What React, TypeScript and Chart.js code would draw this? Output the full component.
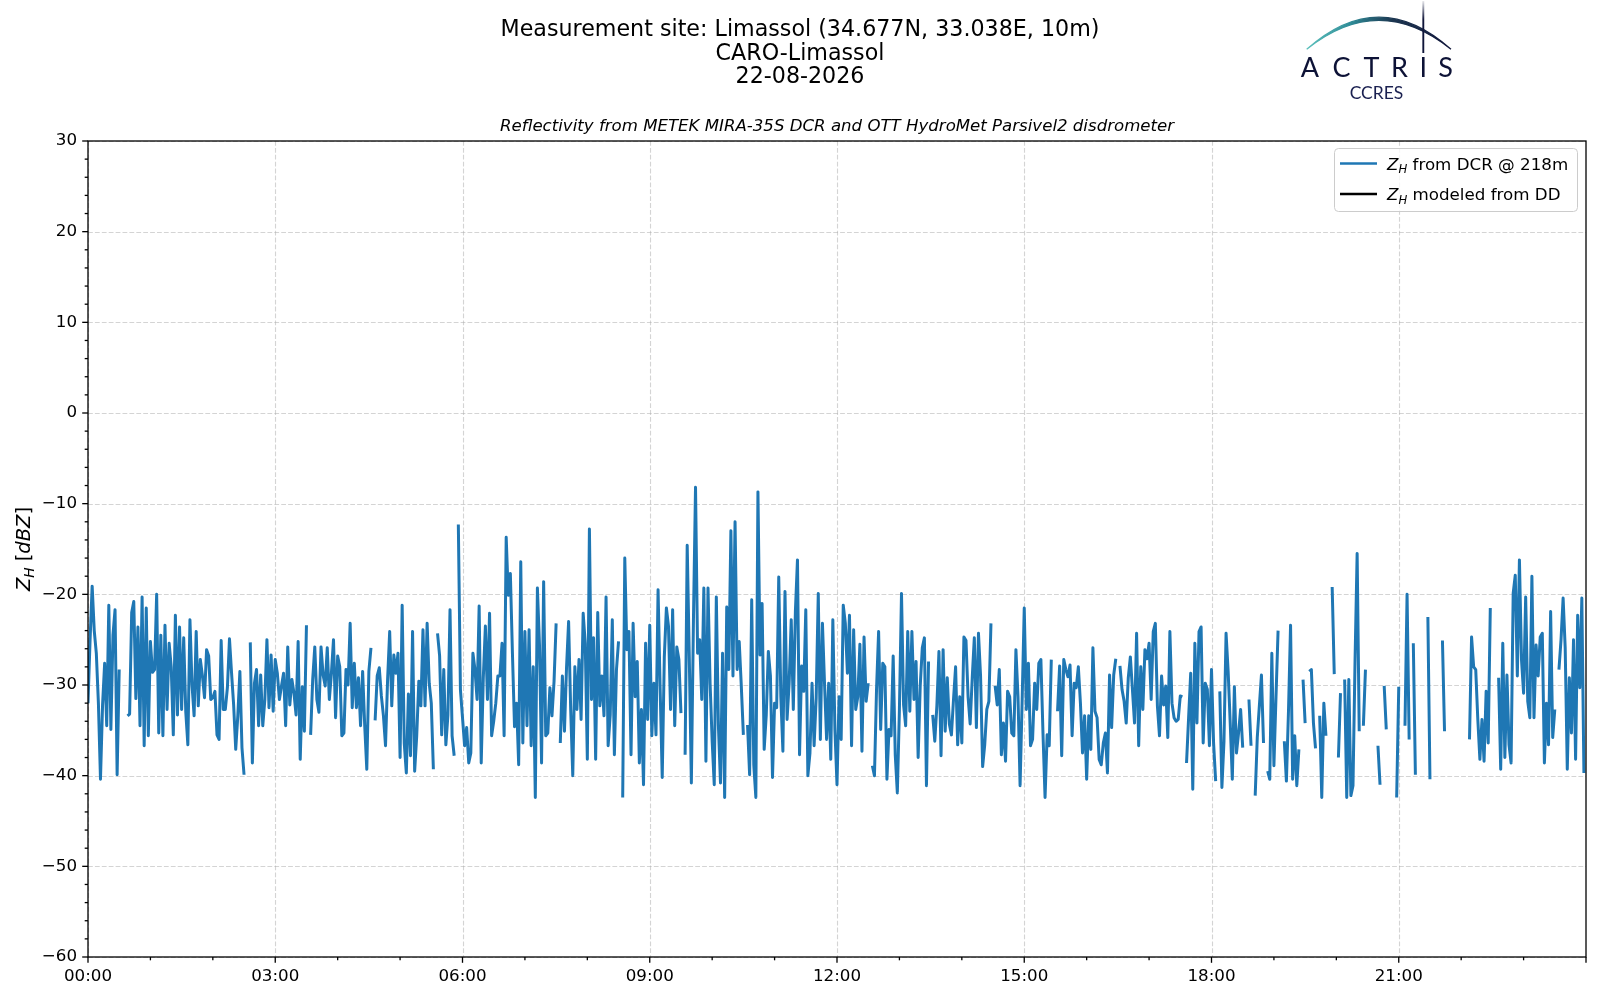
import React, { useEffect, useRef } from 'react';
import { Chart, registerables } from 'chart.js';

Chart.register(...registerables);

// 2-minute reflectivity samples (dBZ); null = no data
const STEP_MIN = 2;

const zhDcr00to03: (number | null)[] = [
  // 00h
  -32, -25, -19.1, -24, -26.5, -32, -40.4, -32.2, -27.6, -34.5, -21.2, -34.9, -24.5, -21.7, -39.9, -28.3, null, null, null, -33.4, -33.2, -22, -20.8, -31.5, -23.6, -34.5, -20.3, -36.7, -21.5, -35.6,
  // 01h
  -25.2, -28.6, -28.3, -20, -35.3, -24.5, -35.6, -23.4, -32.7, -25.4, -28, -35.5, -22.3, -33.3, -23.6, -32.7, -24.8, -33, -36.6, -22.8, -30, -33.4, -24.1, -32.3, -27.2, -29, -31.4, -26.1, -26.8, -31.6,
  // 02h
  -31.4, -30.7, -35.5, -36, -25.1, -32.7, -32.7, -30.3, -24.9, -28.7, -32.2, -37.1, -33.4, -28.5, -36.9, -39.9, null, null, -25.3, -38.6, -29.8, -28.3, -34.5, -28.9, -34.5, -31.6, -25, -32.5, -26.7, -32.9,
];

const zhDcr03to06: (number | null)[] = [
  // 03h
  -27.2, -28.7, -31.6, -30.1, -28.7, -34.5, -25.8, -32.2, -29.4, -30.9, -33.3, -25.2, -38.2, -30.2, -35.1, -23.4, null, -35.5, -29.4, -25.8, -31.6, -33, -25.8, -28.9, -30.1, -25.9, -31.6, -28.7, -25, -33.6,
  // 04h
  -26.8, -28, -35.6, -35.3, -28.3, -30, -23.2, -32.5, -27.6, -32.5, -29.2, -34.5, -28.5, -34.5, -39.3, -28.5, -25.9, null, -33.9, -29, -28.1, -31.2, -33.4, -36.7, -29.4, -24.1, -32.3, -26.7, -28.7, -26.5,
  // 05h
  -38, -21.2, -36.4, -39.7, -31, -37.8, -24.1, -39.5, -35.6, -29.6, -32.3, -23.9, -32.3, -23.2, -29.8, -32, -39.3, null, -24.3, -26.8, -35.5, -28.3, -36.6, -33.3, -21.7, -35.6, -37.8, null, -12.3, -30.5,
];

const zhDcr06to09: (number | null)[] = [
  // 06h
  -33.6, -36.7, -34.7, -38.6, -37.5, -26.5, -28.3, -31.6, -21.3, -38.6, -29.2, -23.5, -31.6, -22.1, -35.6, -34, -32, -29, -29, -25.4, -35.6, -13.7, -20.1, -17.7, -26.5, -34.6, -32, -38.8, -16.4, -36.4,
  // 07h
  -24.1, -34.5, -23.9, -36.7, -28, -42.4, -19.3, -25.6, -38.6, -18.6, -35.6, -35.3, -30.3, -33.4, -29.6, -23.2, null, -36.4, -29, -35.1, -28.1, -23, -32.7, -40, -28, -32.7, -27.2, -33.8, -22.1, -25.4,
  // 08h
  -38.2, -12.8, -31.6, -24.8, -38.2, -22, -32.3, -29, -33.4, -20.3, -36.7, -33.3, -22.8, -37.7, -28.3, -25.2, null, -42.4, -16, -26.1, -24.1, -37.7, -23.2, -31.3, -27.4, -38.6, -32.7, -41, -25.4, -33.8,
];

const zhDcr09to12: (number | null)[] = [
  // 09h
  -23.4, -35.6, -29.8, -35.5, -19.5, -30.5, -40.2, -26.9, -21.5, -23.5, -32.7, -21.7, -34.5, -25.8, -27.2, -33.1, null, -37.7, -14.6, -26.9, -40.8, -22.8, -8.2, -26.5, -25, -31.6, -19.3, -38.4, -19.3, -29.8,
  // 10h
  -36.2, -41, -20.3, -34.5, -40.8, -26.5, -42.4, -21.4, -28.3, -13, -29, -12, -28.3, -25.2, -30.1, -35.5, null, -34.4, -39.9, -20.6, -38.8, -42.4, -8.7, -26.7, -21, -37.1, -33.3, -26.3, -29, -40.2,
  // 11h
  -32, -32.5, -18.1, -31.3, -37.3, -19.7, -33.8, -29.8, -22.8, -32.7, -21.9, -16.2, -37.7, -27.9, -30.7, -21.7, -40, -37.5, -29.8, -36.7, -31.4, -19.9, -36, -23.2, -29.8, -36, -29.8, -38.2, -22.8, -34.9,
];

const zhDcr12to15: (number | null)[] = [
  // 12h
  -41, -31.3, -36, -21.2, -23.2, -28.7, -22.3, -36.7, -23.9, -32.7, -31.3, -25.5, -37.3, -24.7, -31.8, -29.8, null, -38.9, -40, -30.5, -24.1, -34.9, -27.6, -28, -40.4, -34.9, -35.6, -26.8, -37.7, -41.9,
  // 13h
  -32.7, -19.9, -32.2, -34.5, -24.1, -32.9, -24.1, -31.6, -27.4, -38, -30.1, -25.9, -24.8, -41.1, -27.4, null, -33.3, -36.2, -32.3, -26.3, -37.8, -26.1, -35.1, -29.2, -34.3, -35.5, -31.6, -28, -36.6, -31.3,
  // 14h
  -36.4, -24.7, -25.1, -31.3, -34.3, -29.2, -24.8, -34.7, -24.3, -29, -39, -36.6, -32.7, -31.8, -23.2, null, -30.1, -32.2, -28.3, -37.7, -34.2, -38.4, -30.7, -31.3, -35.3, -35.6, -26.1, -31.3, -41.1, -31.6,
];

const zhDcr15to18: (number | null)[] = [
  // 15h
  -21.5, -32.7, -27.6, -36.7, -36, -29.8, -32.7, -27.6, -27.2, -35.3, -42.4, -35.5, -36.7, -27.2, null, null, -32.9, -27.9, -37.8, -27.2, -28.3, -29.1, -27.8, -35.6, -29.8, -30.3, -28, -32, -37.5, -33.4,
  // 16h
  -40.4, -33.4, -37.1, -25.9, -32.9, -33.6, -38.2, -38.8, -36.4, -35.3, -39.7, -28.9, -34.7, -28.9, -27.1, null, -27.9, -30.5, -31.8, -34.2, -29.2, -26.9, -30.5, -34.2, -24.3, -36.7, -28, -32.7, -26.1, -27.1,
  // 17h
  -25.4, -31.6, -24.1, -23.2, -32.3, -35.6, -29, -32.2, -30.1, -35.8, -24.1, -32, -33.6, -34, -33.8, -31.2, -31.3, null, -38.6, -33.6, -28.7, -41.5, -25.4, -34.2, -24.1, -23.6, -36.4, -29.8, -30.5, -36.7,
];

const zhDcr18to21: (number | null)[] = [
  // 18h
  -28.3, -36.4, -40.6, null, -30.7, -41.3, -36.2, -24.3, -28.5, -34.2, -40.4, -30.2, -37.5, -35.3, -32.7, -36.9, null, null, -31.6, -36.7, null, -42.2, -35.8, -32.3, -28.9, -36.4, null, -39.5, -40.4, -26.5,
  // 19h
  -38.9, -31.3, -24, null, null, -36.2, -40.6, -32.9, -23.4, -40.4, -35.6, -41.1, -37.1, null, -29.4, -34.2, null, -28.5, -28.3, -34.2, -37, null, -33.4, -42.4, -32, -35.6, null, null, -19.2, -28.8,
  // 20h
  null, -38, -30.9, null, -29.4, -42.4, -29.4, -42.2, -41.1, -27.2, -15.5, -35.1, null, -34.5, -28.3, null, null, null, null, null, -36.7, -41, null, -30.1, -34.9, null, null, null, null, -42.4,
];

const zhDcr21to24: (number | null)[] = [
  // 21h
  -30.2, null, null, -34.5, -20, -36, null, -25.4, -39.9, null, null, null, null, null, -22.5, -40.4, null, null, null, null, null, -25.1, -35.1, null, null, null, null, null, null, null,
  // 22h
  null, null, null, null, -36, -24.7, -28, -28.3, -33.8, -38.2, -33.8, -38.4, -30.7, -36.4, -21.5, null, null, null, -29.2, -39.3, -25.4, -38, -28.9, -36.6, -38.6, -19.9, -17.9, -29, -16.2, -27.2,
  // 23h
  -30.9, -20.3, -31.8, -33.6, -18, -33.6, -25.6, -29, -24.7, -24.3, -38.6, -32, -36.6, -21.9, -35.8, -32.7, null, -28.3, -25, -20.4, -25.9, -39.3, -29.2, -35.3, -25, -38.2, -22.3, -30.3, -20.4, -39.7,
];

const zhDcr = [
  ...zhDcr00to03, ...zhDcr03to06, ...zhDcr06to09, ...zhDcr09to12,
  ...zhDcr12to15, ...zhDcr15to18, ...zhDcr18to21, ...zhDcr21to24,
];

// no disdrometer values on this day
const zhModeled: (number | null)[] = [];

const xTicksMin = [0, 180, 360, 540, 720, 900, 1080, 1260];
const yTicks = [-60, -50, -40, -30, -20, -10, 0, 10, 20, 30];

const titleLines = ['Measurement site: Limassol (34.677N, 33.038E, 10m)', 'CARO-Limassol', '22-08-2026'];
const subTitle = 'Reflectivity from METEK MIRA-35S DCR and OTT HydroMet Parsivel2 disdrometer';

const FAMILY = '"DejaVu Sans", sans-serif';
const BLUE = '#1f77b4';
const BASE = 16.7;

type Part = { t: string; it?: boolean; sub?: boolean };

const fontOf = (px: number, italic?: boolean) => `${italic ? 'italic ' : ''}${px}px ${FAMILY}`;

function drawMath(ctx: CanvasRenderingContext2D, parts: Part[], x: number, y: number, size: number, align: 'left' | 'center') {
  const widths = parts.map(p => {
    ctx.font = fontOf(p.sub ? size * 0.7 : size, p.it);
    return ctx.measureText(p.t).width;
  });
  const total = widths.reduce((a, b) => a + b, 0);
  let cx = align === 'center' ? x - total / 2 : x;
  ctx.textAlign = 'left';
  ctx.textBaseline = 'alphabetic';
  parts.forEach((p, i) => {
    ctx.font = fontOf(p.sub ? size * 0.7 : size, p.it);
    ctx.fillText(p.t, cx, y + (p.sub ? size * 0.22 : 0));
    cx += widths[i];
  });
}

const hhmm = (m: number) => {
  const h = Math.floor(m / 60);
  const mm = Math.round(m % 60);
  return `${String(h).padStart(2, '0')}:${String(mm).padStart(2, '0')}`;
};

const figurePlugin = {
  id: 'figureDecor',
  beforeDatasetsDraw(chart: any) {
    const { ctx, chartArea: a, scales } = chart;
    ctx.save();
    ctx.strokeStyle = 'rgba(176,176,176,0.55)';
    ctx.lineWidth = 1.1;
    ctx.setLineDash([4.8, 2.1]);
    xTicksMin.forEach(v => {
      const px = Math.round(scales.x.getPixelForValue(v)) + 0.5;
      ctx.beginPath(); ctx.moveTo(px, a.top); ctx.lineTo(px, a.bottom); ctx.stroke();
    });
    yTicks.forEach(v => {
      const py = Math.round(scales.y.getPixelForValue(v)) + 0.5;
      ctx.beginPath(); ctx.moveTo(a.left, py); ctx.lineTo(a.right, py); ctx.stroke();
    });
    ctx.restore();
  },
  afterDatasetsDraw(chart: any) {
    const { ctx, chartArea: a, scales } = chart;
    ctx.save();
    ctx.strokeStyle = '#000';
    ctx.lineWidth = 1.3;
    ctx.strokeRect(a.left, a.top, a.right - a.left, a.bottom - a.top);
    // ticks: major + minor, outward on left and bottom
    ctx.lineWidth = 1.3;
    for (let v = -60; v <= 30; v += 2) {
      const py = scales.y.getPixelForValue(v);
      const len = v % 10 === 0 ? 5.8 : 3.3;
      ctx.beginPath(); ctx.moveTo(a.left, py); ctx.lineTo(a.left - len, py); ctx.stroke();
    }
    for (let m = 0; m <= 1440; m += 60) {
      const px = scales.x.getPixelForValue(m);
      const len = m % 180 === 0 ? 5.8 : 3.3;
      ctx.beginPath(); ctx.moveTo(px, a.bottom); ctx.lineTo(px, a.bottom + len); ctx.stroke();
    }

    // legend
    const lx = 1334.5, ly = 148.5, lw = 243, lh = 63, r = 4;
    ctx.beginPath();
    ctx.moveTo(lx + r, ly);
    ctx.arcTo(lx + lw, ly, lx + lw, ly + lh, r);
    ctx.arcTo(lx + lw, ly + lh, lx, ly + lh, r);
    ctx.arcTo(lx, ly + lh, lx, ly, r);
    ctx.arcTo(lx, ly, lx + lw, ly, r);
    ctx.closePath();
    ctx.fillStyle = 'rgba(255,255,255,0.8)';
    ctx.fill();
    ctx.strokeStyle = '#cccccc';
    ctx.lineWidth = 1;
    ctx.stroke();
    const rows: { color: string; y: number; parts: Part[] }[] = [
      { color: BLUE, y: 163.5, parts: [{ t: 'Z', it: true }, { t: 'H', it: true, sub: true }, { t: ' from DCR @ 218m' }] },
      { color: '#000', y: 194, parts: [{ t: 'Z', it: true }, { t: 'H', it: true, sub: true }, { t: ' modeled from DD' }] },
    ];
    rows.forEach(row => {
      ctx.strokeStyle = row.color;
      ctx.lineWidth = 2.6;
      ctx.beginPath(); ctx.moveTo(1340, row.y); ctx.lineTo(1377, row.y); ctx.stroke();
      ctx.fillStyle = '#000';
      drawMath(ctx, row.parts, 1387, row.y + 6.3, BASE, 'left');
    });
    ctx.restore();
  },
  afterDraw(chart: any) {
    const { ctx, chartArea: a } = chart;
    ctx.save();
    ctx.fillStyle = '#000';
    ctx.textAlign = 'center';
    ctx.textBaseline = 'middle';
    ctx.font = fontOf(22.2);
    titleLines.forEach((t, i) => ctx.fillText(t, 800, 30.5 + i * 23.6));
    ctx.font = fontOf(16.6, true);
    ctx.fillText(subTitle, (a.left + a.right) / 2, 126.5);

    // y axis label
    ctx.save();
    ctx.translate(30, (a.top + a.bottom) / 2);
    ctx.rotate(-Math.PI / 2);
    drawMath(ctx, [{ t: 'Z', it: true }, { t: 'H', it: true, sub: true }, { t: ' [' }, { t: 'dBZ', it: true }, { t: ']' }], 0, 0, 19.5, 'center');
    ctx.restore();

    // ACTRIS / CCRES logo
    const p0 = { x: 1306.7, y: 49.3 }, p2 = { x: 1451, y: 49.3 };
    const grad = ctx.createLinearGradient(p0.x, 0, p2.x, 0);
    grad.addColorStop(0, '#5cc0bc');
    grad.addColorStop(0.3, '#2f8d98');
    grad.addColorStop(0.6, '#1c3550');
    grad.addColorStop(1, '#10163a');
    ctx.beginPath();
    ctx.moveTo(p0.x, p0.y);
    ctx.quadraticCurveTo(1379, -15, p2.x, p2.y);
    ctx.quadraticCurveTo(1379, -8.5, p0.x, p0.y);
    ctx.closePath();
    ctx.fillStyle = grad;
    ctx.fill();
    ctx.strokeStyle = grad;
    ctx.lineWidth = 1.2;
    ctx.stroke();
    const vg = ctx.createLinearGradient(0, 1, 0, 53);
    vg.addColorStop(0, 'rgba(16,22,58,0.1)');
    vg.addColorStop(0.35, 'rgba(16,22,58,1)');
    vg.addColorStop(1, 'rgba(16,22,58,1)');
    ctx.strokeStyle = vg;
    ctx.lineWidth = 1.9;
    ctx.beginPath(); ctx.moveTo(1423.3, 1); ctx.lineTo(1423.3, 53); ctx.stroke();

    ctx.fillStyle = '#0d1236';
    ctx.textAlign = 'center';
    ctx.textBaseline = 'alphabetic';
    ctx.font = '400 27px Lato, "Open Sans", sans-serif';
    const letters = ['A', 'C', 'T', 'R', 'I', 'S'];
    const centers = [1310, 1341.5, 1371.5, 1399.5, 1423.3, 1445.5];
    letters.forEach((l, i) => ctx.fillText(l, centers[i], 76.8));
    ctx.fillStyle = '#1a2050';
    ctx.font = '17.5px Lato, "Open Sans", sans-serif';
    ctx.fillText('CCRES', 1376.5, 99.3);
    ctx.restore();
  },
};

export default function App() {
  const canvasRef = useRef<HTMLCanvasElement>(null);
  const chartRef = useRef<Chart | null>(null);

  useEffect(() => {
    document.body.style.margin = '0';
    if (chartRef.current) chartRef.current.destroy();
    if (!canvasRef.current) return;

    const dcrPoints = zhDcr.map((v, i) => ({ x: i * STEP_MIN, y: v }));
    const ddPoints = zhModeled.map((v, i) => ({ x: i * STEP_MIN, y: v }));

    chartRef.current = new Chart(canvasRef.current, {
      type: 'line',
      data: {
        datasets: [
          {
            label: 'Z_H from DCR @ 218m',
            data: dcrPoints as any,
            borderColor: BLUE,
            borderWidth: 3,
            pointRadius: 0,
            tension: 0,
            spanGaps: false,
            borderJoinStyle: 'round',
            borderCapStyle: 'butt',
          },
          {
            label: 'Z_H modeled from DD',
            data: ddPoints as any,
            borderColor: '#000',
            borderWidth: 2.6,
            pointRadius: 0,
          },
        ],
      },
      options: {
        responsive: false,
        animation: false,
        events: [],
        layout: { padding: { left: 0, right: 14, top: 141, bottom: 0 } },
        plugins: {
          legend: { display: false },
          tooltip: { enabled: false },
          title: { display: false },
        },
        scales: {
          x: {
            type: 'linear',
            min: 0,
            max: 1440,
            grid: { display: false, drawTicks: false },
            border: { display: false },
            afterBuildTicks: (s: any) => { s.ticks = xTicksMin.map(v => ({ value: v })); },
            afterFit: (s: any) => { s.height = 43; },
            ticks: {
              color: '#000',
              padding: 10,
              maxRotation: 0,
              autoSkip: false,
              font: { family: FAMILY, size: BASE },
              callback: (v: any) => hhmm(Number(v)),
            },
          },
          y: {
            type: 'linear',
            min: -60,
            max: 30,
            grid: { display: false, drawTicks: false },
            border: { display: false },
            afterBuildTicks: (s: any) => { s.ticks = yTicks.map(v => ({ value: v })); },
            afterFit: (s: any) => { s.width = 88; },
            ticks: {
              color: '#000',
              padding: 11,
              autoSkip: false,
              font: { family: FAMILY, size: BASE },
              callback: (v: any) => String(v).replace('-', '\u2212'),
            },
          },
        },
      },
      plugins: [figurePlugin],
    });

    return () => {
      if (chartRef.current) chartRef.current.destroy();
      chartRef.current = null;
    };
  }, []);

  return (
    <div style={{ width: 1600, height: 1000, background: '#fff' }}>
      <canvas ref={canvasRef} width={1600} height={1000} style={{ display: 'block', width: 1600, height: 1000 }} />
    </div>
  );
}
